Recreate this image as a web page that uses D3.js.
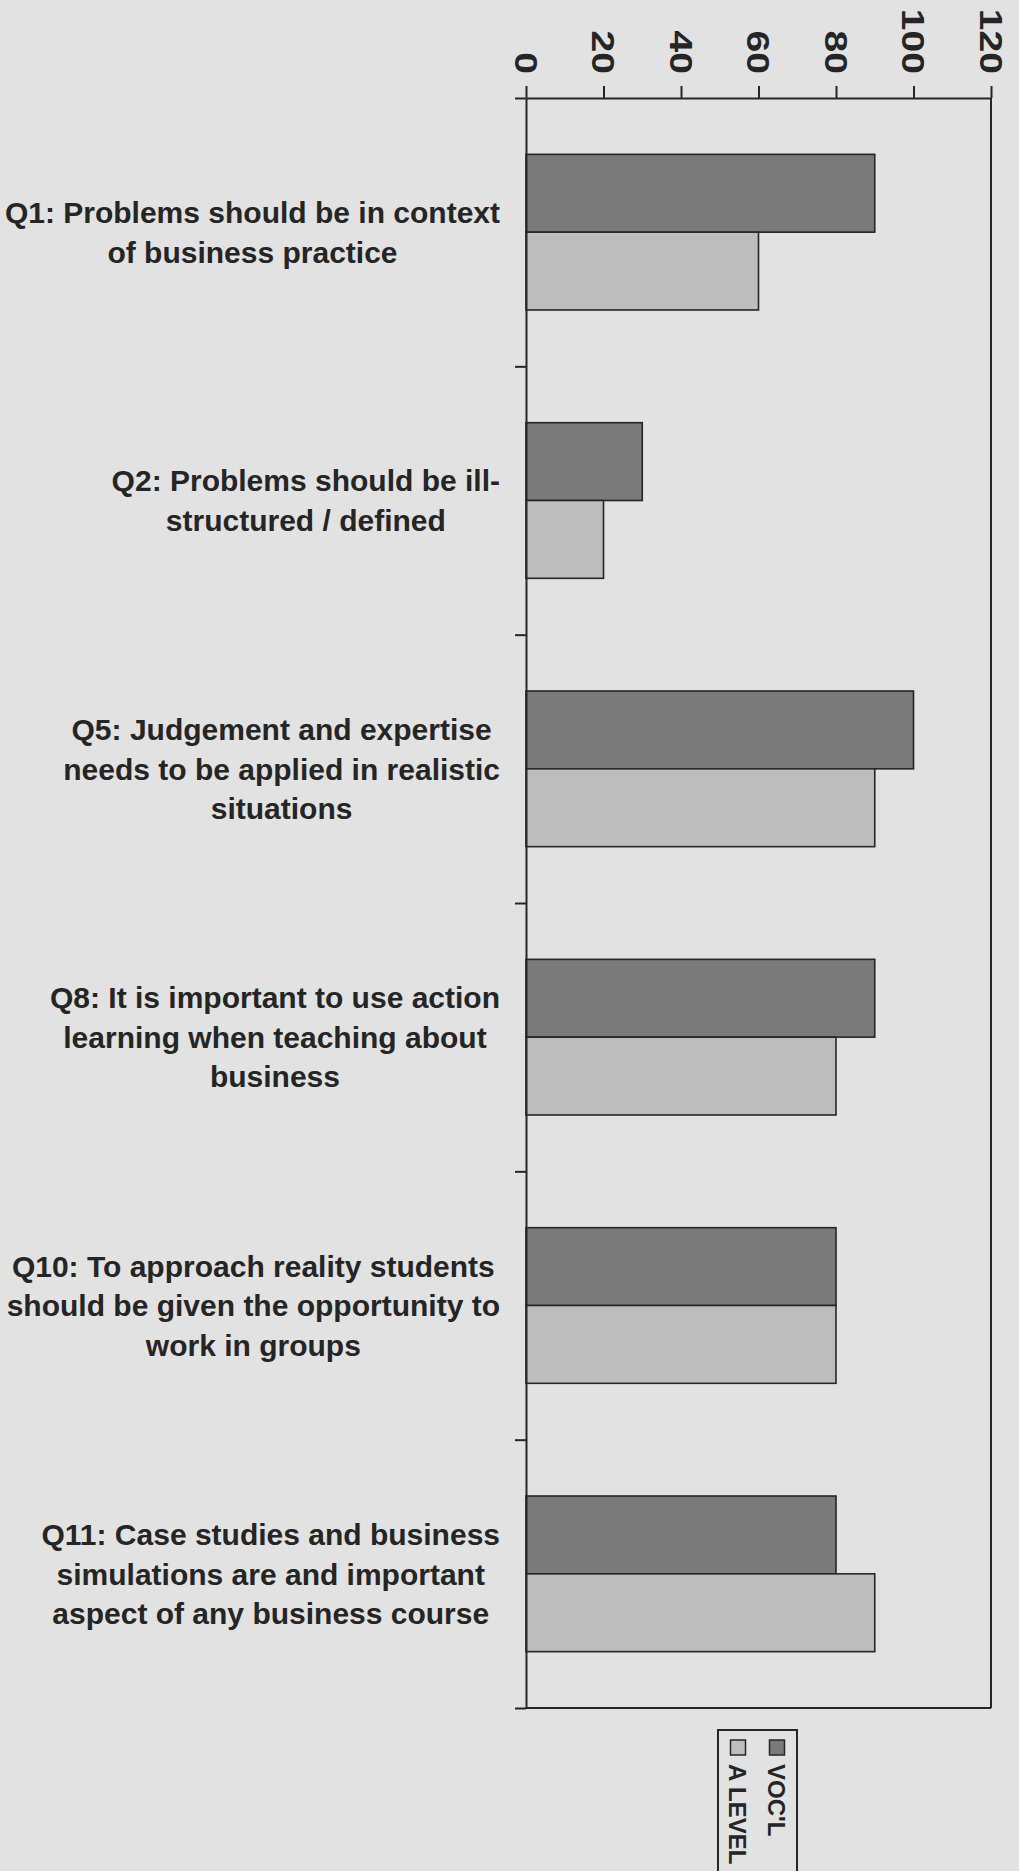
<!DOCTYPE html>
<html>
<head>
<meta charset="utf-8">
<script src="https://cdn.jsdelivr.net/npm/d3@7"></script>
<style>
  html, body { margin: 0; padding: 0; background: #e2e2e2; }
  svg { display: block; }
  text { font-family: 'Liberation Sans', Arial, sans-serif; font-weight: bold; fill: #252525; }
</style>
</head>
<body>
<svg id="chart" width="1019" height="1871"></svg>
<script>
// Survey statements (one entry per category, wrapped into lines)
const categories = ["Q1", "Q2", "Q5", "Q8", "Q10", "Q11"];
const categoryLines = [
  ["Q1: Problems should be in context", "of business practice"],
  ["Q2: Problems should be ill-", "structured / defined"],
  ["Q5: Judgement and expertise", "needs to be applied in realistic", "situations"],
  ["Q8: It is important to use action", "learning when teaching about", "business"],
  ["Q10: To approach reality students", "should be given the opportunity to", "work in groups"],
  ["Q11: Case studies and business", "simulations are and important", "aspect of any business course"]
];

// Series values (percentage agreeing)
const seriesNames = ["VOC'L", "A LEVEL"];
const voclValues = [90, 30, 100, 90, 80, 80];
const aLevelValues = [60, 20, 90, 80, 80, 90];
const seriesColors = ["#7a7a7a", "#bdbdbd"];

// Value axis ticks
const valueTicks = [0, 20, 40, 60, 80, 100, 120];

const plot = { left: 526, right: 991, top: 98, bottom: 1708 };
const ink = "#262626";

const svg = d3.select("#chart");

const x = d3.scaleLinear().domain([0, 120]).range([plot.left, plot.right]);
const y = d3.scaleBand().domain(categories).range([plot.top, plot.bottom])
  .paddingInner(0.42).paddingOuter(0.21);
const ySeries = d3.scaleBand().domain(seriesNames).range([0, y.bandwidth()]);
const yBounds = d3.scaleLinear().domain([0, categories.length]).range([plot.top, plot.bottom]);

const rows = categories.map((c, i) => ({
  cat: c,
  values: [
    { series: seriesNames[0], value: voclValues[i] },
    { series: seriesNames[1], value: aLevelValues[i] }
  ]
}));

// Bars
const groups = svg.append("g").selectAll("g").data(rows).join("g")
  .attr("transform", d => `translate(0,${y(d.cat)})`);
groups.selectAll("rect").data(d => d.values).join("rect")
  .attr("x", x(0))
  .attr("y", d => ySeries(d.series))
  .attr("width", d => x(d.value) - x(0))
  .attr("height", ySeries.bandwidth())
  .attr("fill", (d, i) => seriesColors[i])
  .attr("stroke", ink)
  .attr("stroke-width", 1.6);

// Right and bottom edges of the plot frame
svg.append("line").attr("x1", plot.right).attr("x2", plot.right)
  .attr("y1", plot.top).attr("y2", plot.bottom)
  .attr("stroke", ink).attr("stroke-width", 2);
svg.append("line").attr("x1", plot.left).attr("x2", plot.right)
  .attr("y1", plot.bottom).attr("y2", plot.bottom)
  .attr("stroke", ink).attr("stroke-width", 2);

// Category axis (ticks on the band boundaries)
const catAxis = svg.append("g").attr("transform", `translate(${plot.left},0)`)
  .call(d3.axisLeft(yBounds).ticks(categories.length).tickSize(11).tickSizeOuter(0).tickFormat(""));
catAxis.select(".domain").attr("stroke", ink).attr("stroke-width", 2);
catAxis.selectAll(".tick line").attr("stroke", ink).attr("stroke-width", 2);

// Value axis along the top, labels turned a quarter clockwise
const valAxis = svg.append("g").attr("transform", `translate(0,${plot.top})`)
  .call(d3.axisTop(x).tickValues(valueTicks).tickSize(12).tickSizeOuter(0));
valAxis.select(".domain").attr("stroke", ink).attr("stroke-width", 2);
valAxis.selectAll(".tick line").attr("stroke", ink).attr("stroke-width", 2);
valAxis.selectAll(".tick text")
  .attr("x", 0).attr("y", 0).attr("dy", "0.36em")
  .attr("text-anchor", "end")
  .attr("font-size", 32)
  .attr("fill", "#252525")
  .attr("transform", `translate(0,${74 - plot.top}) rotate(90) scale(1.22,1)`);

// Category labels: centred lines, block right-aligned next to the axis
const labelRight = 500;
const lineGap = 39.5;
const labelSize = 30;
categories.forEach((c, i) => {
  const lines = categoryLines[i];
  const cy = y(c) + y.bandwidth() / 2;
  const g = svg.append("g");
  const texts = lines.map((t, k) => g.append("text")
    .attr("font-size", labelSize)
    .attr("text-anchor", "middle")
    .attr("y", cy + (k - (lines.length - 1) / 2) * lineGap + labelSize * 0.358)
    .text(t));
  const widest = d3.max(texts, t => t.node().getComputedTextLength());
  texts.forEach(t => t.attr("x", labelRight - widest / 2));
});

// Legend
const legend = svg.append("g");
legend.append("rect")
  .attr("x", 718).attr("y", 1730).attr("width", 79).attr("height", 220)
  .attr("fill", "none").attr("stroke", ink).attr("stroke-width", 2);
const legendX = [777, 738];
seriesNames.forEach((name, i) => {
  legend.append("rect")
    .attr("x", legendX[i] - 7.5).attr("y", 1740)
    .attr("width", 15).attr("height", 15)
    .attr("fill", seriesColors[i]).attr("stroke", ink).attr("stroke-width", 1.5);
  legend.append("text")
    .attr("font-size", 24)
    .attr("dy", "0.36em")
    .attr("transform", `translate(${legendX[i]},1764) rotate(90)`)
    .text(name);
});
</script>
</body>
</html>
